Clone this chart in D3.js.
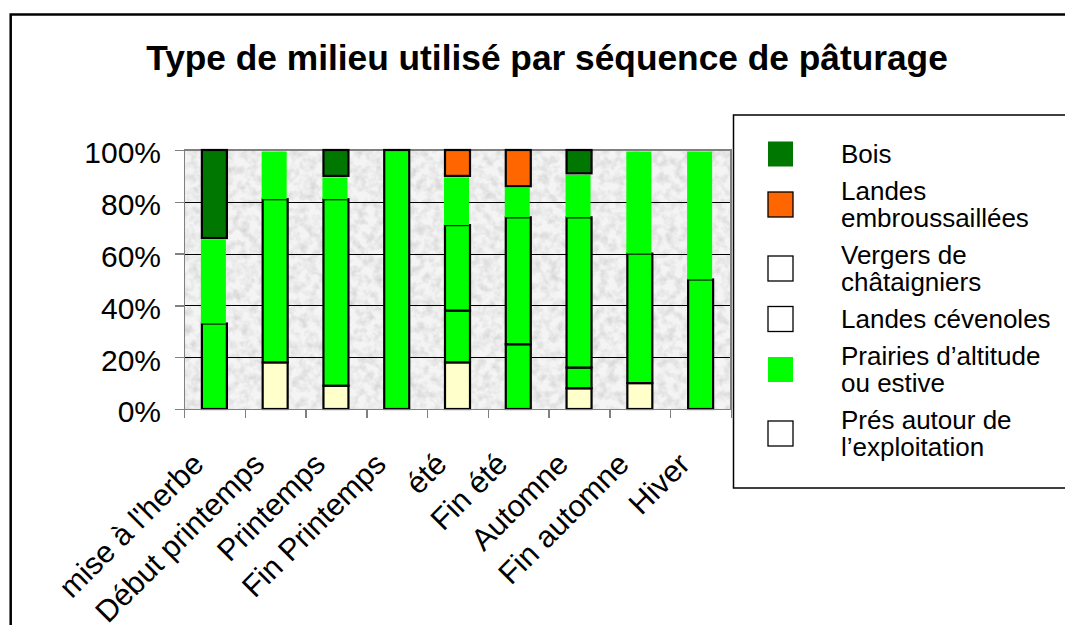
<!DOCTYPE html>
<meta charset="utf-8">
<style>
body { margin: 0; background: #fff; }
text { font-family: "Liberation Sans", Arial, sans-serif; fill: #000; }
.axis path, .axis line { stroke: #808080; stroke-width: 1.5px; shape-rendering: crispEdges; }
.grid line { stroke: #000; stroke-width: 1px; shape-rendering: crispEdges; }
</style>
<svg width="1065" height="625"></svg>
<script src="https://cdn.jsdelivr.net/npm/d3@7/dist/d3.min.js"></script>
<script>
// séquences de pâturage
var categories = ["mise à l'herbe", "Début printemps", "Printemps", "Fin Printemps", "été",
                  "Fin été", "Automne", "Fin automne", "Hiver"];

// parts (%) par type de milieu, du bas vers le haut de la pile
var pres      = [0, 18, 9, 0, 18, 0, 8, 10, 0];
var landesCev = [33, 63, 72, 100, 20, 25, 8, 50, 50];
var vergers   = [0, 0, 0, 0, 33, 49, 58, 0, 0];
var prairies  = [33, 19, 9, 0, 19, 12, 17, 40, 50];
var landesEmb = [0, 0, 0, 0, 10, 14, 0, 0, 0];
var bois      = [34, 0, 10, 0, 0, 0, 9, 0, 0];

var yTicks = [0, 0.2, 0.4, 0.6, 0.8, 1];
var title = "Type de milieu utilisé par séquence de pâturage";

// legend labels (one array per line), legend order is top to bottom
var legendKeys = ["bois", "landesEmb", "vergers", "landesCev", "prairies", "pres"];
var legendLabels = {
  bois: ["Bois"],
  landesEmb: ["Landes", "embroussaillées"],
  vergers: ["Vergers de", "châtaigniers"],
  landesCev: ["Landes cévenoles"],
  prairies: ["Prairies d’altitude", "ou estive"],
  pres: ["Prés autour de", "l’exploitation"]
};

var values = {pres: pres, landesCev: landesCev, vergers: vergers, prairies: prairies,
              landesEmb: landesEmb, bois: bois};
var stackKeys = ["pres", "landesCev", "vergers", "prairies", "landesEmb", "bois"];

// bar styles and legend swatch styles (the original legend shows some swatches blank)
var style = {
  pres:      {fill: "#ffffcc", border: true,  key: "#ffffff", keyBorder: true},
  landesCev: {fill: "#00ff00", border: true,  key: "#ffffff", keyBorder: true},
  vergers:   {fill: "#00ff00", border: true,  key: "#ffffff", keyBorder: true},
  prairies:  {fill: "#00ff00", border: false, key: "#00ff00", keyBorder: false},
  landesEmb: {fill: "#ff6600", border: true,  key: "#ff6600", keyBorder: true},
  bois:      {fill: "#007700", border: true,  key: "#007700", keyBorder: false}
};

var rows = categories.map(function(c, i) {
  var r = {cat: c};
  stackKeys.forEach(function(k) { r[k] = values[k][i]; });
  return r;
});

var series = d3.stack().keys(stackKeys).offset(d3.stackOffsetExpand)(rows);

var svg = d3.select("svg");
var plot = {left: 184, right: 731, top: 150, bottom: 409};

var x = d3.scaleBand()
    .domain(categories)
    .range([plot.left, plot.right]);
var xEdge = d3.scaleLinear()
    .domain([0, categories.length])
    .range([plot.left, plot.right]);
var y = d3.scaleLinear()
    .domain([0, 1])
    .range([plot.bottom, plot.top]);
var barW = 25;

// marbled grey background of the plot area
var defs = svg.append("defs");
var f = defs.append("filter").attr("id", "marble")
    .attr("x", 0).attr("y", 0).attr("width", 1).attr("height", 1);
f.append("feTurbulence")
    .attr("type", "fractalNoise")
    .attr("baseFrequency", 0.12)
    .attr("numOctaves", 3)
    .attr("seed", 7)
    .attr("result", "noise");
f.append("feColorMatrix")
    .attr("in", "noise")
    .attr("type", "matrix")
    .attr("values", "0 0 0 0 0.5  0 0 0 0 0.5  0 0 0 0 0.5  1.1 0 0 0 -0.42")
    .attr("result", "spots");
f.append("feComposite")
    .attr("in", "spots")
    .attr("in2", "SourceGraphic")
    .attr("operator", "in");

// outer frame
svg.append("rect")
    .attr("x", 10.7).attr("y", 14.5)
    .attr("width", 1200).attr("height", 800)
    .attr("fill", "#fff")
    .attr("stroke", "#000")
    .attr("stroke-width", 2.5);

svg.append("text")
    .attr("x", 547)
    .attr("y", 69.5)
    .attr("text-anchor", "middle")
    .style("font-size", "35.3px")
    .style("font-weight", "bold")
    .text(title);

svg.append("rect")
    .attr("x", plot.left).attr("y", plot.top)
    .attr("width", plot.right - plot.left)
    .attr("height", plot.bottom - plot.top)
    .attr("fill", "#f4f4f4");
svg.append("rect")
    .attr("x", plot.left).attr("y", plot.top)
    .attr("width", plot.right - plot.left)
    .attr("height", plot.bottom - plot.top)
    .attr("fill", "#fff")
    .attr("filter", "url(#marble)");

svg.append("g")
    .attr("class", "grid")
  .selectAll("line")
  .data(yTicks.slice(1, -1))
  .enter().append("line")
    .attr("x1", plot.left).attr("x2", plot.right)
    .attr("y1", function(d) { return Math.round(y(d)) + 0.5; })
    .attr("y2", function(d) { return Math.round(y(d)) + 0.5; });

// plot border (top and right)
svg.append("path")
    .attr("d", "M" + plot.left + "," + plot.top + "H" + plot.right + "V" + plot.bottom)
    .attr("fill", "none")
    .attr("stroke", "#808080")
    .attr("stroke-width", 2);

// stacked bars
var layer = svg.append("g").selectAll("g")
  .data(series)
  .enter().append("g");

layer.selectAll("rect")
  .data(function(s) { return s.map(function(d) { d.key = s.key; return d; }); })
  .enter().filter(function(d) { return d[1] - d[0] > 0; })
  .append("rect")
    .attr("x", function(d) {
      var x0 = x(d.data.cat) + (x.bandwidth() - barW) / 2;
      return style[d.key].border ? x0 : x0 - 1;
    })
    .attr("y", function(d) { return y(d[1]) + (style[d.key].border ? 0 : 1.5); })
    .attr("width", barW)
    .attr("height", function(d) { return y(d[0]) - y(d[1]) - (style[d.key].border ? 0 : 1.5); })
    .attr("fill", function(d) { return style[d.key].fill; })
    .attr("stroke", function(d) { return style[d.key].border ? "#000" : "none"; })
    .attr("stroke-width", 2.2);

// axes
var yAxis = svg.append("g")
    .attr("class", "axis")
    .attr("transform", "translate(" + plot.left + ",0)")
    .call(d3.axisLeft(y)
      .tickValues(yTicks)
      .tickFormat(d3.format(".0%"))
      .tickSize(9)
      .tickSizeOuter(0)
      .tickPadding(14));
yAxis.selectAll("text")
    .attr("dy", "0.43em")
    .style("font-size", "30px")
    .style("font-family", "'Liberation Sans', Arial, sans-serif");

svg.append("g")
    .attr("class", "axis")
    .attr("transform", "translate(0," + plot.bottom + ")")
    .call(d3.axisBottom(xEdge)
      .ticks(categories.length)
      .tickFormat("")
      .tickSize(9)
      .tickSizeOuter(0));

svg.append("g").selectAll("text")
  .data(categories)
  .enter().append("text")
    .attr("transform", function(d) {
      return "translate(" + (x(d) + x.bandwidth() / 2 - 9) + ",466) rotate(-45)";
    })
    .attr("text-anchor", "end")
    .style("font-size", "30.5px")
    .text(function(d) { return d; });

// legend
var legend = svg.append("g");
legend.append("rect")
    .attr("x", 733.5).attr("y", 115)
    .attr("width", 400).attr("height", 373)
    .attr("fill", "#fff")
    .attr("stroke", "#000")
    .attr("stroke-width", 1.5);

var lineH = 27, entryGap = 37, baseY = 163;
legendKeys.forEach(function(k) {
  var lines = legendLabels[k];
  var cy = baseY - 9 + (lines.length - 1) * lineH / 2;
  legend.append("rect")
      .attr("x", 768).attr("y", cy - 12.5)
      .attr("width", 25).attr("height", 25)
      .attr("fill", style[k].key)
      .attr("stroke", style[k].keyBorder ? "#000" : "none")
      .attr("stroke-width", 1.3);
  var t = legend.append("text")
      .attr("x", 841)
      .attr("y", baseY)
      .style("font-size", "26px");
  lines.forEach(function(l, i) {
    t.append("tspan").attr("x", 841).attr("dy", i ? lineH : 0).text(l);
  });
  baseY += (lines.length - 1) * lineH + entryGap;
});
</script>
